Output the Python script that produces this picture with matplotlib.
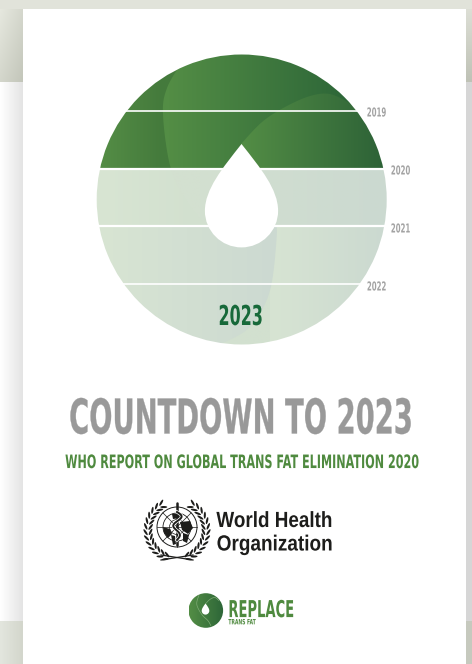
import matplotlib
matplotlib.use("Agg")
import matplotlib.pyplot as plt
import numpy as np
from matplotlib.colors import LinearSegmentedColormap
from matplotlib.patches import Annulus, Circle, Ellipse, PathPatch, Polygon, Rectangle
from matplotlib.path import Path
from matplotlib.patheffects import AbstractPathEffect
from matplotlib.transforms import Affine2D

YEARS = ["2019", "2020", "2021", "2022"]
FINAL_YEAR = "2023"
TITLE = "COUNTDOWN TO 2023"
SUBTITLE = "WHO REPORT ON GLOBAL TRANS FAT ELIMINATION 2020"
WHO_LINES = ["World Health", "Organization"]
BRAND = "REPLACE"
BRAND_SUB = "TRANS FAT"

W, H = 472, 664
CX, CY, R = 241.7, 199.5, 145
LINE_YS = [111.3, 168.7, 226.3, 283.7]
LABEL_XS = [376.5, 400.5, 400.5, 376.5]
LABEL_YS = [112, 170, 228, 286]

FONT = "Liberation Sans Narrow"
CAP_RATIO = 0.729

fig = plt.figure(figsize=(W / 100, H / 100), dpi=100, facecolor="white")
ax = fig.add_axes([0, 0, 1, 1])
ax.set_axis_off()
ax.set_xlim(0, W)
ax.set_ylim(H, 0)


class StretchY(AbstractPathEffect):
    # none of the installed fonts is condensed enough, so stretch glyphs up from the baseline
    def __init__(self, y0, sy, bold=0.0):
        super().__init__()
        self.y0, self.sy, self.bold = y0, sy, bold

    def draw_path(self, renderer, gc, tpath, affine, rgbFace=None):
        t = affine + Affine2D().translate(0, -self.y0).scale(1, self.sy).translate(0, self.y0)
        if self.bold > 0 and rgbFace is not None:
            gc0 = renderer.new_gc()
            gc0.copy_properties(gc)
            gc0.set_linewidth(self.bold)
            gc0.set_foreground(rgbFace)
            renderer.draw_path(gc0, tpath, t, rgbFace)
            gc0.restore()
        else:
            renderer.draw_path(gc, tpath, t, rgbFace)


def fit_text(x_mid, y_mid, txt, width, cap, color, family=FONT, weight="bold", bold=0.0):
    base = y_mid + cap / 2
    t = ax.text(x_mid, base, txt, ha="center", va="baseline", fontsize=10, color=color,
                family=family, weight=weight, zorder=20)
    w = t.get_window_extent(fig.canvas.get_renderer()).width
    size = 10 * width / w
    t.set_fontsize(size)
    cap_now = CAP_RATIO * size * 100 / 72
    t.set_path_effects([StretchY(H - base, cap / cap_now, bold)])
    return t


def grad(c0, c1, gx0, gx1, y0, y1, clip=None, x0=90, x1=395, z=2):
    cmap = LinearSegmentedColormap.from_list("g", [c0, c1])
    xs = np.clip((np.linspace(x0, x1, 300) - gx0) / (gx1 - gx0), 0, 1)
    im = ax.imshow(xs[None, :], cmap=cmap, vmin=0, vmax=1, extent=(x0, x1, y1, y0), aspect="auto",
                   zorder=z, interpolation="bilinear")
    if clip is not None:
        patch = PathPatch(clip, transform=ax.transData, fc="none", ec="none")
        ax.add_patch(patch)
        im.set_clip_path(patch)
    return im


def outline(points):
    pts = np.array(points, float)
    return Path(np.vstack([pts, pts[0]]), closed=True)


def smooth(points, n=14):
    p = np.array(points, float)
    p = np.vstack([p[0], p, p[-1]])
    out = []
    for i in range(1, len(p) - 2):
        for t in np.linspace(0, 1, n, endpoint=False):
            a = 2 * p[i] + (p[i + 1] - p[i - 1]) * t
            b = (2 * p[i - 1] - 5 * p[i] + 4 * p[i + 1] - p[i + 2]) * t ** 2
            c = (3 * p[i] - p[i - 1] - 3 * p[i + 1] + p[i + 2]) * t ** 3
            out.append(0.5 * (a + b + c))
    out.append(p[-2])
    return np.array(out)


def drop_path(cx, cy, r, top):
    h = top - cy
    k = 0.5523 * r
    verts = [(cx, top), (cx + 0.52 * r, top - h * 0.36), (cx + r, cy + h * 0.32), (cx + r, cy),
             (cx + r, cy + k), (cx + k, cy + r), (cx, cy + r),
             (cx - k, cy + r), (cx - r, cy + k), (cx - r, cy),
             (cx - r, cy + h * 0.32), (cx - 0.52 * r, top - h * 0.36), (cx, top), (cx, top)]
    codes = [Path.MOVETO] + [Path.CURVE4] * 12 + [Path.CLOSEPOLY]
    return Path(verts, codes)


# ---------------- page background ----------------
shade = LinearSegmentedColormap.from_list("s", ["#e8eae1", "#c3c6ba"])
xx, yy = np.meshgrid(np.linspace(0, 1, 40), np.linspace(0, 1, 80))
ax.imshow(0.45 * xx + 0.55 * yy, cmap=shade, vmin=0, vmax=1, extent=(0, 23, 82, 0), aspect="auto", zorder=0)
ax.imshow(np.linspace(0, 1, 50)[None, :], cmap=LinearSegmentedColormap.from_list("s", ["#ffffff", "#e4e4e4"]),
          extent=(0, 23, 621, 82), aspect="auto", zorder=0)
ax.imshow(np.linspace(0, 1, 50)[None, :], cmap=LinearSegmentedColormap.from_list("s", ["#e3e6de", "#d3d6cc"]),
          extent=(0, 23, H, 621), aspect="auto", zorder=0)
ax.imshow(np.linspace(0, 1, 60)[:, None], cmap=LinearSegmentedColormap.from_list("s", ["#e0e2d9", "#bfc2b6"]),
          extent=(466, 472, 82, 0), aspect="auto", zorder=0)
ax.add_patch(Rectangle((466, 82), 6, 539, fc="#d6d6d6", ec="none", zorder=0.5))
ax.add_patch(Rectangle((466, 621), 6, 43, fc="#c6c9be", ec="none", zorder=0.5))
ax.add_patch(Rectangle((23, 9), 443, H - 9, fc="white", ec="none", zorder=1))

# ---------------- big circle ----------------
left_edge = smooth([(182, 62), (167, 88), (163, 115), (170.7, 168), (188, 203), (207, 226)])
petal_a = outline(list(left_edge) + [(300, 230), (400, 230), (400, 40), (182, 40)])
petal_b_edge = smooth([(241, 144), (262, 122), (285, 107), (310, 96), (330, 94), (350, 103)])
petal_b = outline(list(petal_b_edge) + [(400, 110), (400, 180), (241, 180)])
petal_c_edge = smooth([(276, 222), (276.7, 237), (271.7, 283), (262, 310), (246.7, 330), (223, 343)])
petal_c = outline(list(petal_c_edge) + [(200, 360), (80, 360), (80, 222)])

# dark half
grad("#558e46", "#447a3c", 97, 163, 54, 168.7, z=2)
grad("#538d45", "#2d6638", 168, 350, 54, 168.7, clip=petal_a, z=2.1)
grad("#538d45", "#2d6237", 241, 385, 54, 168.7, clip=petal_b, z=2.2)
# light half
grad("#d8e5d3", "#d2e0cf", 97, 200, 168.7, 345, z=2)
grad("#d3e0d0", "#cbd9d0", 200, 387, 168.7, 345, clip=petal_a, z=2.1)
grad("#d7e4d3", "#cbd9d0", 270, 387, 226.3, 345, x0=270, z=2.15)
grad("#d8e5d3", "#ccd9d1", 97, 277, 226.3, 345, clip=petal_c, z=2.2)

ax.add_patch(Annulus((CX, CY), R + 70, 70, fc="white", ec="none", zorder=3))
ax.add_patch(Rectangle((0, 0), W, 9, fc="#e1e3da", ec="none", zorder=3.5))
for ly in LINE_YS:
    half = np.sqrt(R ** 2 - (ly - CY) ** 2)
    lw = 1.6 if ly in (LINE_YS[1], LINE_YS[2]) else 1.2
    ax.plot([CX - half - 1, CX + half + 1], [ly, ly], color="white", lw=lw, zorder=4, solid_capstyle="butt")
ax.add_patch(PathPatch(drop_path(241.5, 210.8, 36.6, 144), fc="white", ec="none", zorder=5))

for year, lx, ly in zip(YEARS, LABEL_XS, LABEL_YS):
    fit_text(lx, ly, year, 19.5, 9, "#a3a3a3")

fit_text(240.5, 315, FINAL_YEAR, 44.5, 20, "#17693a")

# ---------------- titles ----------------
fit_text(240.5, 416, TITLE, 345, 35, "#999999", bold=0.2)
fit_text(240.5, 461.3, SUBTITLE, 355, 13.5, "#4f8a3f")

# ---------------- WHO emblem ----------------
EX, EY = 177, 527
INK = "#1d1d1b"
for rad, lw in [(20, 0.7), (14, 0.6), (7.5, 0.5)]:
    ax.add_patch(Circle((EX, EY), rad, lw=lw, fc="none", ec=INK, zorder=6))
for a in np.radians([0, 45, 90, 135]):
    ax.plot([EX - 20 * np.cos(a), EX + 20 * np.cos(a)], [EY - 20 * np.sin(a), EY + 20 * np.sin(a)],
            color=INK, lw=0.5, zorder=6)
# continents
for blob in [[(163, 527), (170, 529), (172, 534), (168, 538), (164, 533)],
             [(180, 522), (190, 521), (193, 528), (188, 534), (182, 530)],
             [(171, 535), (175, 536), (176, 544), (173, 545)],
             [(183, 533), (189, 535), (187, 543), (183, 541)],
             [(172, 514), (182, 513), (181, 518), (173, 519)]]:
    ax.add_patch(Polygon(blob, closed=True, fc=INK, ec="none", zorder=6))
# staff and snake
ax.plot([EX, EX], [503, 545], color=INK, lw=1.8, zorder=7, solid_capstyle="round")
snake_y = np.linspace(512, 540, 40)
snake_x = EX + 5 * np.sin((snake_y - 512) / 28 * 3 * np.pi) * np.linspace(1, 0.5, 40)
ax.plot(snake_x, snake_y, color="white", lw=2.4, zorder=7.1)
ax.plot(snake_x, snake_y, color=INK, lw=1.4, zorder=7.2)
# wreath
for side in (-1, 1):
    for ang in np.linspace(22, 150, 13):
        a = np.radians(ang)
        for off, tilt in [(-2.5, -30), (2.5, 30)]:
            rad = 29 + off
            px = EX + side * rad * np.sin(a)
            py = EY + 3 + rad * np.cos(a)
            deg = side * (-ang) + side * tilt
            ax.add_patch(Ellipse((px, py), 7, 2.1, angle=deg, fc=INK, ec="none", zorder=6))
ax.plot([EX - 16, EX + 16], [555, 560], color=INK, lw=0.9, zorder=6)
ax.plot([EX - 16, EX + 16], [560, 555], color=INK, lw=0.9, zorder=6)

fit_text(274.5, 519, WHO_LINES[0], 116, 16, INK, family="Liberation Sans")
fit_text(274.5, 542.5, WHO_LINES[1], 116, 16, INK, family="Liberation Sans")

# ---------------- REPLACE mark ----------------
MX, MY, MR = 205.8, 610.5, 17.3
small_clip = Circle((MX, MY), MR, transform=ax.transData)
cmap = LinearSegmentedColormap.from_list("m", ["#538d45", "#2d6638"])
im = ax.imshow(np.linspace(0, 1, 60)[None, :], cmap=cmap, extent=(MX - MR, MX + MR, MY + MR, MY - MR),
               aspect="auto", zorder=6.1)
im.set_clip_path(small_clip)
for pts in ([(MX - 7, MY - 15), (MX - 9, MY - 6), (MX - 4, MY + 4), (MX + 2, MY + 10), (MX + 5, MY + 15)],
            [(MX, MY - 7), (MX + 4, MY - 11), (MX + 9, MY - 13), (MX + 13, MY - 10)]):
    swirl = smooth(pts)
    ax.plot(swirl[:, 0], swirl[:, 1], color="#7fac75", lw=0.5, zorder=6.2)
ax.add_patch(PathPatch(drop_path(MX - 0.3, MY + 0.3, 3.8, MY - 7), fc="white", ec="none", zorder=6.3))

fit_text(261.3, 608.6, BRAND, 66, 17, "#4f8a3f")
fit_text(242, 621.7, BRAND_SUB, 27.5, 5.3, "#4f8a3f")

fig.savefig("out.png", dpi=100, facecolor="white")
